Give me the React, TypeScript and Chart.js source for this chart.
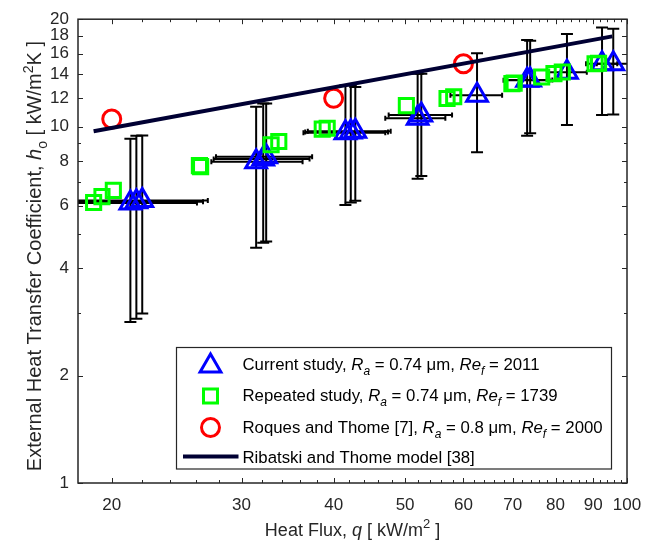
import React, { useEffect, useRef } from 'react';
import { Chart, registerables } from 'chart.js';

Chart.register(...registerables);

const FONT = "'Liberation Sans', Arial, Helvetica, sans-serif";
const AXIS_COLOR = '#262626';

// ---- Current study (triangles) with error bars ----
const curQ = [21.2, 21.6, 22.0, 31.4, 32.1, 32.4, 41.5, 42.2, 42.8, 52.0, 52.6, 62.6, 73.2, 73.9, 82.9, 92.5, 95.8];
const curH = [6.10, 6.15, 6.20, 7.96, 8.11, 8.22, 9.60, 9.65, 9.70, 10.55, 10.77, 12.24, 13.48, 13.50, 14.20, 15.0, 15.0];
const curHLow = [2.83, 2.89, 2.99, 4.57, 4.72, 4.76, 6.02, 6.12, 6.19, 7.14, 7.26, 8.47, 9.42, 9.58, 10.1, 10.77, 10.8];
const curHHigh = [9.24, 9.42, 9.44, 11.37, 11.61, 11.61, 13.05, 13.05, 12.9, 14.07, 14.07, 16.06, 17.49, 17.4, 18.17, 18.97, 18.8];
const curQLow = [16.3, 16.6, 17.0, 27.3, 27.5, 27.7, 36.4, 36.6, 36.9, 47.0, 47.5, 57.6, 68.0, 68.5, 77.9, 88.0, 91.0];
const curQHigh = [26.1, 26.6, 27.0, 36.3, 37.1, 37.4, 47.0, 47.4, 47.8, 56.7, 57.9, 67.7, 78.5, 79.2, 88.2, 97.0, 100.5];

// ---- Repeated study (squares) ----
const repQ = [18.9, 19.4, 20.1, 26.3, 26.4, 32.9, 33.7, 38.6, 39.2, 50.2, 57.0, 58.2, 69.8, 70.3, 76.6, 79.6, 81.7, 90.5, 91.5];
const repH = [6.12, 6.36, 6.62, 7.77, 7.72, 8.89, 9.08, 9.83, 9.89, 11.44, 11.98, 12.12, 13.19, 13.24, 13.77, 14.07, 14.22, 15.0, 15.05];

// ---- Roques and Thome (circles) ----
const roqQ = [20, 40, 60];
const roqH = [10.5, 12.0, 15.0];

// ---- Ribatski and Thome model (line) ----
const modelQ = [18.9, 95.5];
const modelH = [9.7, 17.9];

// ---- Axes ----
const xMajorTicks = [20, 30, 40, 50, 60, 70, 80, 90, 100];
const xMinorTicks = [22, 24, 26, 28, 32, 34, 36, 38, 42, 44, 46, 48, 52, 54, 56, 58, 62, 64, 66, 68, 72, 74, 76, 78, 82, 84, 86, 88, 92, 94, 96, 98];
const yMajorTicks = [1, 2, 4, 6, 8, 10, 12, 14, 16, 18, 20];
const yMinorTicks = [3, 5, 7, 9];

type Seg = { t: string; it?: boolean; sub?: boolean; sup?: boolean };

const legendRows: Seg[][] = [
  [{ t: 'Current study, ' }, { t: 'R', it: true }, { t: 'a', it: true, sub: true }, { t: ' = 0.74 μm, ' }, { t: 'Re', it: true }, { t: 'f', it: true, sub: true }, { t: ' = 2011' }],
  [{ t: 'Repeated study, ' }, { t: 'R', it: true }, { t: 'a', it: true, sub: true }, { t: ' = 0.74 μm, ' }, { t: 'Re', it: true }, { t: 'f', it: true, sub: true }, { t: ' = 1739' }],
  [{ t: 'Roques and Thome [7], ' }, { t: 'R', it: true }, { t: 'a', it: true, sub: true }, { t: ' = 0.8 μm, ' }, { t: 'Re', it: true }, { t: 'f', it: true, sub: true }, { t: ' = 2000' }],
  [{ t: 'Ribatski and Thome model [38]' }],
];

const xTitle: Seg[] = [{ t: 'Heat Flux, ' }, { t: 'q', it: true }, { t: ' [ kW/m' }, { t: '2', sup: true }, { t: ' ]' }];
const yTitle: Seg[] = [{ t: 'External Heat Transfer Coefficient, ' }, { t: 'h', it: true }, { t: 'o', sub: true }, { t: ' [ kW/m' }, { t: '2', sup: true }, { t: 'K ]' }];

function segFont(s: Seg, size: number) {
  const sz = s.sub || s.sup ? Math.round(size * 0.72) : size;
  return `${s.it ? 'italic ' : ''}${sz}px ${FONT}`;
}
function richWidth(ctx: CanvasRenderingContext2D, segs: Seg[], size: number) {
  let w = 0;
  for (const s of segs) {
    ctx.font = segFont(s, size);
    w += ctx.measureText(s.t).width;
  }
  return w;
}
function drawRich(ctx: CanvasRenderingContext2D, segs: Seg[], x: number, baseline: number, size: number, align: 'left' | 'center', color: string) {
  const w = richWidth(ctx, segs, size);
  let cx = align === 'center' ? x - w / 2 : x;
  ctx.textBaseline = 'alphabetic';
  ctx.textAlign = 'left';
  ctx.fillStyle = color;
  for (const s of segs) {
    ctx.font = segFont(s, size);
    const dy = s.sub ? size * 0.3 : s.sup ? -size * 0.42 : 0;
    ctx.fillText(s.t, cx, baseline + dy);
    cx += ctx.measureText(s.t).width;
  }
}

function triPath(ctx: CanvasRenderingContext2D, x: number, y: number, r: number) {
  ctx.beginPath();
  ctx.moveTo(x, y - r);
  ctx.lineTo(x + 0.866 * r, y + 0.5 * r);
  ctx.lineTo(x - 0.866 * r, y + 0.5 * r);
  ctx.closePath();
}

const errorBarPlugin = {
  id: 'errorBars',
  beforeDatasetsDraw(chart: any) {
    const { ctx, chartArea, scales } = chart;
    const xs = scales.x;
    const ys = scales.y;
    ctx.save();
    ctx.beginPath();
    ctx.rect(chartArea.left, chartArea.top, chartArea.right - chartArea.left, chartArea.bottom - chartArea.top);
    ctx.clip();
    ctx.strokeStyle = '#000000';
    ctx.lineWidth = 2;
    for (let i = 0; i < curQ.length; i++) {
      const px = xs.getPixelForValue(curQ[i]);
      const py = ys.getPixelForValue(curH[i]);
      const yl = ys.getPixelForValue(curHLow[i]);
      const yh = ys.getPixelForValue(curHHigh[i]);
      const xl = xs.getPixelForValue(curQLow[i]);
      const xh = xs.getPixelForValue(curQHigh[i]);
      ctx.beginPath();
      ctx.moveTo(px, yl); ctx.lineTo(px, yh);
      ctx.moveTo(px - 6, yl); ctx.lineTo(px + 6, yl);
      ctx.moveTo(px - 6, yh); ctx.lineTo(px + 6, yh);
      ctx.moveTo(xl, py); ctx.lineTo(xh, py);
      ctx.moveTo(xl, py - 2.5); ctx.lineTo(xl, py + 2.5);
      ctx.moveTo(xh, py - 2.5); ctx.lineTo(xh, py + 2.5);
      ctx.stroke();
    }
    ctx.restore();
  },
};

const decorPlugin = {
  id: 'decor',
  afterDraw(chart: any) {
    const { ctx, chartArea, scales } = chart;
    const { left, right, top, bottom } = chartArea;
    const xs = scales.x;
    const ys = scales.y;
    ctx.save();
    // frame
    ctx.strokeStyle = AXIS_COLOR;
    ctx.lineWidth = 1.5;
    ctx.strokeRect(left, top, right - left, bottom - top);
    // ticks (inward, all sides)
    ctx.lineWidth = 1;
    ctx.beginPath();
    const xt = (v: number, len: number) => {
      const p = Math.round(xs.getPixelForValue(v)) + 0.5;
      ctx.moveTo(p, bottom); ctx.lineTo(p, bottom - len);
      ctx.moveTo(p, top); ctx.lineTo(p, top + len);
    };
    const yt = (v: number, len: number) => {
      const p = Math.round(ys.getPixelForValue(v)) + 0.5;
      ctx.moveTo(left, p); ctx.lineTo(left + len, p);
      ctx.moveTo(right, p); ctx.lineTo(right - len, p);
    };
    xMajorTicks.forEach((v) => xt(v, 5));
    xMinorTicks.forEach((v) => xt(v, 3));
    yMajorTicks.forEach((v) => yt(v, 5));
    yMinorTicks.forEach((v) => yt(v, 3));
    ctx.stroke();

    // legend
    const lx0 = 176.5, lx1 = 611.5, ly0 = 347.5, ly1 = 469;
    ctx.fillStyle = '#ffffff';
    ctx.fillRect(lx0, ly0, lx1 - lx0, ly1 - ly0);
    ctx.strokeStyle = AXIS_COLOR;
    ctx.lineWidth = 1.2;
    ctx.strokeRect(lx0, ly0, lx1 - lx0, ly1 - ly0);
    const rowY = [364, 395, 426.5, 456.5];
    const mx = 210.5;
    // triangle
    ctx.lineWidth = 3;
    ctx.strokeStyle = '#0000ff';
    triPath(ctx, mx, rowY[0] + 2, 12);
    ctx.stroke();
    // square
    ctx.strokeStyle = '#00ff00';
    ctx.strokeRect(mx - 7, rowY[1] + 1 - 7, 14, 14);
    // circle
    ctx.strokeStyle = '#ff0000';
    ctx.beginPath();
    ctx.arc(mx, rowY[2] + 1, 9, 0, Math.PI * 2);
    ctx.stroke();
    // line
    ctx.strokeStyle = '#000033';
    ctx.lineWidth = 4;
    ctx.beginPath();
    ctx.moveTo(183, rowY[3]);
    ctx.lineTo(238.5, rowY[3]);
    ctx.stroke();
    const lsize = 16.8;
    legendRows.forEach((segs, i) => {
      drawRich(ctx, segs, 242.5, rowY[i] + lsize * 0.36, lsize, 'left', '#000000');
    });

    // axis titles
    drawRich(ctx, xTitle, (left + right) / 2, 536, 18, 'center', AXIS_COLOR);
    ctx.save();
    ctx.translate(41, (top + bottom) / 2 + 5);
    ctx.rotate(-Math.PI / 2);
    drawRich(ctx, yTitle, 0, 0, 20, 'center', AXIS_COLOR);
    ctx.restore();

    ctx.restore();
  },
};

export default function App() {
  const canvasRef = useRef<HTMLCanvasElement | null>(null);

  useEffect(() => {
    const canvas = canvasRef.current;
    if (!canvas) return;
    const pts = (xs: number[], ys: number[]) => xs.map((x, i) => ({ x, y: ys[i] }));
    const chart = new Chart(canvas, {
      type: 'scatter',
      data: {
        datasets: [
          {
            label: 'Ribatski and Thome model [38]',
            data: pts(modelQ, modelH),
            showLine: true,
            borderColor: '#000033',
            borderWidth: 4,
            pointRadius: 0,
            pointHoverRadius: 0,
            fill: false,
          },
          {
            label: 'Roques and Thome [7]',
            data: pts(roqQ, roqH),
            pointStyle: 'circle',
            pointRadius: 9,
            pointHoverRadius: 9,
            borderWidth: 3,
            borderColor: '#ff0000',
            backgroundColor: 'rgba(0,0,0,0)',
          },
          {
            label: 'Repeated study',
            data: pts(repQ, repH),
            pointStyle: 'rect',
            pointRadius: 10,
            pointHoverRadius: 10,
            borderWidth: 3,
            borderColor: '#00ff00',
            backgroundColor: 'rgba(0,0,0,0)',
          },
          {
            label: 'Current study',
            data: pts(curQ, curH),
            pointStyle: 'triangle',
            pointRadius: 12,
            pointHoverRadius: 12,
            borderWidth: 3,
            borderColor: '#0000ff',
            backgroundColor: 'rgba(0,0,0,0)',
          },
        ],
      },
      options: {
        animation: false,
        responsive: false,
        devicePixelRatio: 1,
        layout: { padding: { top: 15, right: 27, left: 0, bottom: 0 } },
        plugins: { legend: { display: false }, tooltip: { enabled: false } },
        scales: {
          x: {
            type: 'logarithmic',
            min: 18,
            max: 100,
            afterBuildTicks: (s: any) => {
              s.ticks = xMajorTicks.map((v) => ({ value: v }));
            },
            afterFit: (s: any) => {
              s.height = 64;
            },
            grid: { display: false, drawTicks: false },
            border: { display: false },
            ticks: {
              autoSkip: false,
              maxRotation: 0,
              minRotation: 0,
              padding: 12,
              color: AXIS_COLOR,
              font: { family: FONT, size: 17 },
              callback: (v: any) => String(v),
            },
          },
          y: {
            type: 'logarithmic',
            min: 1,
            max: 20,
            afterBuildTicks: (s: any) => {
              s.ticks = yMajorTicks.map((v) => ({ value: v }));
            },
            afterFit: (s: any) => {
              s.width = 78;
            },
            grid: { display: false, drawTicks: false },
            border: { display: false },
            ticks: {
              autoSkip: false,
              padding: 9,
              color: AXIS_COLOR,
              font: { family: FONT, size: 17 },
              callback: (v: any) => String(v),
            },
          },
        },
      } as any,
      plugins: [errorBarPlugin, decorPlugin],
    });
    return () => chart.destroy();
  }, []);

  return (
    <div style={{ position: 'fixed', left: 0, top: 0, width: 654, height: 547, background: '#ffffff' }}>
      <canvas ref={canvasRef} width={654} height={547} style={{ width: 654, height: 547, display: 'block' }} />
    </div>
  );
}
